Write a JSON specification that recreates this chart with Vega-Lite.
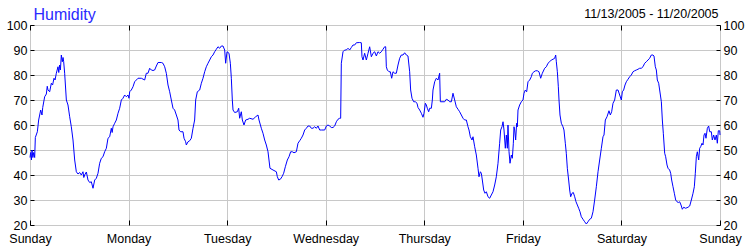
{
  "$schema": "https://vega.github.io/schema/vega-lite/v6.json",
  "width": 690,
  "height": 200,
  "autosize": {"type": "none"},
  "padding": {"left": 30, "top": 25, "right": 30, "bottom": 25},
  "background": "white",
  "config": {"view": {"stroke": "#000", "strokeWidth": 1}, "font": "Liberation Sans"},
  "data": {"values": [
    {"hour":0.0,"humidity":47},{"hour":0.16,"humidity":49},{"hour":0.35,"humidity":46},{"hour":0.49,"humidity":50},{"hour":0.7,"humidity":47},{"hour":0.9,"humidity":49},{"hour":1.14,"humidity":47},{"hour":1.3,"humidity":55},{"hour":1.79,"humidity":57.3},{"hour":2.11,"humidity":62},{"hour":2.6,"humidity":66},{"hour":2.92,"humidity":64},{"hour":3.1,"humidity":67},{"hour":3.57,"humidity":71.3},{"hour":3.98,"humidity":72.4},{"hour":4.2,"humidity":75.5},{"hour":4.38,"humidity":74},{"hour":4.79,"humidity":73.3},{"hour":5.19,"humidity":76.7},{"hour":5.5,"humidity":76},{"hour":5.84,"humidity":78.7},{"hour":6.1,"humidity":78},{"hour":6.41,"humidity":80.7},{"hour":6.82,"humidity":83.3},{"hour":7.0,"humidity":81},{"hour":7.22,"humidity":84},{"hour":7.4,"humidity":82},{"hour":7.63,"humidity":88},{"hour":7.87,"humidity":85.3},{"hour":8.05,"humidity":87},{"hour":8.2,"humidity":85.3},{"hour":8.44,"humidity":80.7},{"hour":8.85,"humidity":70},{"hour":9.25,"humidity":68},{"hour":9.66,"humidity":63.3},{"hour":10.06,"humidity":59.3},{"hour":10.47,"humidity":54},{"hour":10.88,"humidity":46},{"hour":11.28,"humidity":41.3},{"hour":11.69,"humidity":40.4},{"hour":12.09,"humidity":41},{"hour":12.5,"humidity":40},{"hour":12.9,"humidity":41.3},{"hour":13.1,"humidity":39},{"hour":13.31,"humidity":40},{"hour":13.72,"humidity":41.2},{"hour":14.12,"humidity":38},{"hour":14.53,"humidity":37},{"hour":14.93,"humidity":37.3},{"hour":15.34,"humidity":34.7},{"hour":15.75,"humidity":38},{"hour":16.15,"humidity":38.7},{"hour":16.56,"humidity":40.7},{"hour":16.96,"humidity":44.7},{"hour":17.37,"humidity":46.7},{"hour":17.77,"humidity":47.3},{"hour":18.18,"humidity":49.3},{"hour":18.59,"humidity":50.7},{"hour":18.99,"humidity":54.7},{"hour":19.4,"humidity":55.3},{"hour":19.8,"humidity":58.7},{"hour":20.0,"humidity":57},{"hour":20.21,"humidity":59.3},{"hour":20.62,"humidity":60.7},{"hour":21.02,"humidity":62},{"hour":21.43,"humidity":64.7},{"hour":21.83,"humidity":66.7},{"hour":22.24,"humidity":70},{"hour":22.64,"humidity":70.7},{"hour":23.05,"humidity":72},{"hour":23.45,"humidity":71.3},{"hour":23.86,"humidity":72},{"hour":24.1,"humidity":70.7},{"hour":24.27,"humidity":73.3},{"hour":24.67,"humidity":74},{"hour":25.08,"humidity":75.3},{"hour":25.48,"humidity":77.3},{"hour":26.3,"humidity":78.7},{"hour":27.11,"humidity":78.7},
    {"hour":27.92,"humidity":78},{"hour":28.32,"humidity":80.7},{"hour":28.73,"humidity":80.7},{"hour":29.14,"humidity":82.7},{"hour":29.54,"humidity":82},{"hour":29.95,"humidity":81.8},{"hour":30.35,"humidity":82},{"hour":30.76,"humidity":83.6},{"hour":31.17,"humidity":85},{"hour":31.98,"humidity":85},{"hour":32.38,"humidity":84.7},{"hour":32.79,"humidity":83.3},{"hour":33.19,"humidity":80.7},{"hour":33.6,"humidity":76},{"hour":34.01,"humidity":73.3},{"hour":34.41,"humidity":70},{"hour":34.82,"humidity":66.7},{"hour":35.22,"humidity":66},{"hour":35.63,"humidity":64},{"hour":36.03,"humidity":62},{"hour":36.28,"humidity":58},{"hour":36.68,"humidity":57.3},{"hour":37.25,"humidity":57.3},{"hour":37.5,"humidity":54.7},{"hour":37.9,"humidity":53.3},{"hour":38.06,"humidity":52},{"hour":38.47,"humidity":53.3},{"hour":38.88,"humidity":53.7},{"hour":39.28,"humidity":54.7},{"hour":39.69,"humidity":58.7},{"hour":40.09,"humidity":62},{"hour":40.34,"humidity":70},{"hour":40.74,"humidity":73.3},{"hour":41.31,"humidity":74},{"hour":41.72,"humidity":76.7},{"hour":42.12,"humidity":78.7},{"hour":42.53,"humidity":81.3},{"hour":42.93,"humidity":83.3},{"hour":43.34,"humidity":84.7},{"hour":43.75,"humidity":86},{"hour":44.15,"humidity":87.3},{"hour":44.56,"humidity":88},{"hour":44.96,"humidity":89.3},{"hour":45.37,"humidity":90.3},{"hour":45.77,"humidity":91.3},{"hour":46.18,"humidity":90.7},{"hour":46.59,"humidity":91.6},{"hour":46.99,"humidity":91.6},{"hour":47.4,"humidity":90},{"hour":47.64,"humidity":84.7},{"hour":47.97,"humidity":89.3},{"hour":48.45,"humidity":88.7},{"hour":48.78,"humidity":84.7},{"hour":49.02,"humidity":78.7},{"hour":49.26,"humidity":70},{"hour":49.43,"humidity":66},{"hour":49.83,"humidity":65},{"hour":50.48,"humidity":65.3},{"hour":50.81,"humidity":66.7},{"hour":51.05,"humidity":62.7},{"hour":51.45,"humidity":65.3},{"hour":51.7,"humidity":62},{"hour":52.1,"humidity":60},{"hour":52.51,"humidity":62},{"hour":53.08,"humidity":62.3},{"hour":53.48,"humidity":62.7},{"hour":54.3,"humidity":62.3},{"hour":54.95,"humidity":63.3},{"hour":55.51,"humidity":64},{"hour":55.76,"humidity":62},
    {"hour":56.32,"humidity":58.7},{"hour":56.73,"humidity":56.7},{"hour":57.14,"humidity":54},{"hour":57.54,"humidity":52},{"hour":57.95,"humidity":49.3},{"hour":58.19,"humidity":46},{"hour":58.43,"humidity":42.7},{"hour":59.17,"humidity":42},{"hour":59.98,"humidity":41.3},{"hour":60.22,"humidity":39.3},{"hour":60.55,"humidity":38},{"hour":60.95,"humidity":38.3},{"hour":61.36,"humidity":39.3},{"hour":61.76,"humidity":40.7},{"hour":62.17,"humidity":43.3},{"hour":62.65,"humidity":46},{"hour":63.06,"humidity":47.3},{"hour":63.47,"humidity":49.3},{"hour":63.87,"humidity":49.3},{"hour":64.28,"humidity":48.9},{"hour":64.85,"humidity":49.3},{"hour":65.25,"humidity":52.7},{"hour":65.66,"humidity":53.7},{"hour":66.06,"humidity":54.7},{"hour":66.47,"humidity":56},{"hour":66.88,"humidity":58},{"hour":67.28,"humidity":58.7},{"hour":67.69,"humidity":59.6},{"hour":68.09,"humidity":59.6},{"hour":68.5,"humidity":58.7},{"hour":68.9,"humidity":58.7},{"hour":69.31,"humidity":59.3},{"hour":69.72,"humidity":58.7},{"hour":70.12,"humidity":59.6},{"hour":70.53,"humidity":58},{"hour":70.93,"humidity":58},{"hour":71.75,"humidity":58},{"hour":72.15,"humidity":59.6},{"hour":72.56,"humidity":60},{"hour":72.96,"humidity":59.6},{"hour":73.37,"humidity":59},{"hour":73.77,"humidity":59},{"hour":74.18,"humidity":59.6},{"hour":74.59,"humidity":61.3},{"hour":74.99,"humidity":62.3},{"hour":75.4,"humidity":62.7},{"hour":75.64,"humidity":62.7},{"hour":75.8,"humidity":84.7},{"hour":76.21,"humidity":89.3},{"hour":76.62,"humidity":90},{"hour":77.02,"humidity":90},{"hour":77.43,"humidity":90.7},{"hour":77.83,"humidity":90},{"hour":78.24,"humidity":91},{"hour":78.64,"humidity":92},{"hour":79.05,"humidity":92},{"hour":79.46,"humidity":92.9},{"hour":80.27,"humidity":93},{"hour":80.67,"humidity":92.9},{"hour":80.83,"humidity":87.3},{"hour":81.08,"humidity":86},{"hour":81.48,"humidity":88.7},{"hour":81.89,"humidity":86},{"hour":82.3,"humidity":88.7},{"hour":82.7,"humidity":91.3},{"hour":83.11,"humidity":87.3},{"hour":83.51,"humidity":88.7},{"hour":83.92,"humidity":89.3},
    {"hour":84.33,"humidity":87.6},{"hour":84.73,"humidity":89.3},{"hour":85.14,"humidity":88.7},{"hour":85.54,"humidity":89.3},{"hour":85.95,"humidity":90.3},{"hour":86.35,"humidity":91.3},{"hour":86.6,"humidity":91.3},{"hour":86.76,"humidity":83.3},{"hour":87.0,"humidity":82},{"hour":87.41,"humidity":81.3},{"hour":87.73,"humidity":81.3},{"hour":88.06,"humidity":78.7},{"hour":88.38,"humidity":81.3},{"hour":88.79,"humidity":80.7},{"hour":89.19,"humidity":80.7},{"hour":89.6,"humidity":84},{"hour":90.01,"humidity":86.7},{"hour":90.41,"humidity":88},{"hour":90.82,"humidity":88},{"hour":91.22,"humidity":88.9},{"hour":91.63,"humidity":88},{"hour":92.03,"humidity":87.6},{"hour":92.44,"humidity":81.3},{"hour":92.68,"humidity":74},{"hour":93.01,"humidity":70.7},{"hour":93.42,"humidity":69.3},{"hour":93.82,"humidity":69.3},{"hour":94.23,"humidity":68.7},{"hour":94.47,"humidity":67},{"hour":94.88,"humidity":66},{"hour":95.28,"humidity":64.7},{"hour":95.69,"humidity":63.1},{"hour":95.93,"humidity":64.7},{"hour":96.26,"humidity":68.7},{"hour":96.5,"humidity":68},{"hour":96.74,"humidity":66.7},{"hour":97.07,"humidity":65.3},{"hour":97.31,"humidity":66.7},{"hour":97.72,"humidity":66.7},{"hour":97.96,"humidity":70},{"hour":98.12,"humidity":74},{"hour":98.53,"humidity":77.3},{"hour":98.93,"humidity":78.7},{"hour":99.34,"humidity":78},{"hour":99.74,"humidity":80.7},{"hour":99.91,"humidity":69.3},{"hour":100.56,"humidity":69.3},{"hour":100.96,"humidity":69.3},{"hour":101.37,"humidity":70.3},{"hour":101.77,"humidity":70},{"hour":102.18,"humidity":69.3},{"hour":102.59,"humidity":69.3},{"hour":102.99,"humidity":72.7},{"hour":103.4,"humidity":70},{"hour":103.8,"humidity":67.3},{"hour":104.21,"humidity":66.3},{"hour":104.61,"humidity":65.3},{"hour":105.02,"humidity":64},{"hour":105.43,"humidity":62.7},{"hour":105.83,"humidity":62},{"hour":106.24,"humidity":62},{"hour":106.64,"humidity":59.3},{"hour":106.89,"humidity":58},{"hour":107.21,"humidity":55.3},{"hour":107.62,"humidity":54},{"hour":107.86,"humidity":55.3},{"hour":108.27,"humidity":51.3},{"hour":108.67,"humidity":48},{"hour":109.08,"humidity":42.7},{"hour":109.32,"humidity":39.3},{"hour":109.65,"humidity":41.3},{"hour":109.89,"humidity":40.7},{"hour":110.13,"humidity":38},{"hour":110.46,"humidity":34},{"hour":110.78,"humidity":32.7},{"hour":111.11,"humidity":33.3},{"hour":111.51,"humidity":31.3},
    {"hour":111.92,"humidity":30.7},{"hour":112.32,"humidity":32},{"hour":112.73,"humidity":33.3},{"hour":113.14,"humidity":36},{"hour":113.54,"humidity":39.3},{"hour":113.95,"humidity":44.7},{"hour":114.35,"humidity":52.7},{"hour":114.6,"humidity":58},{"hour":114.92,"humidity":59.3},{"hour":115.17,"humidity":61.3},{"hour":115.41,"humidity":58},{"hour":115.73,"humidity":50.7},{"hour":115.98,"humidity":56},{"hour":116.22,"humidity":50.7},{"hour":116.38,"humidity":60},{"hour":116.63,"humidity":49.3},{"hour":116.87,"humidity":44.7},{"hour":117.19,"humidity":48},{"hour":117.44,"humidity":46.7},{"hour":117.68,"humidity":52.7},{"hour":117.84,"humidity":59.3},{"hour":118.01,"humidity":58},{"hour":118.25,"humidity":54},{"hour":118.49,"humidity":60.7},{"hour":118.65,"humidity":59.3},{"hour":118.82,"humidity":66},{"hour":119.22,"humidity":68},{"hour":119.63,"humidity":69.3},{"hour":120.03,"humidity":70},{"hour":120.28,"humidity":72.7},{"hour":120.6,"humidity":74},{"hour":120.93,"humidity":73.3},{"hour":121.25,"humidity":77.3},{"hour":121.66,"humidity":78},{"hour":122.06,"humidity":79.3},{"hour":122.31,"humidity":80.7},{"hour":122.71,"humidity":81.3},{"hour":123.12,"humidity":81.7},{"hour":123.53,"humidity":81.7},{"hour":123.93,"humidity":81.3},{"hour":124.34,"humidity":78.7},{"hour":124.74,"humidity":80.7},{"hour":125.31,"humidity":82.7},{"hour":125.72,"humidity":83.3},{"hour":126.12,"humidity":84.7},{"hour":126.53,"humidity":85.3},{"hour":126.93,"humidity":86},{"hour":127.34,"humidity":86.3},{"hour":127.75,"humidity":86.7},{"hour":127.99,"humidity":88},{"hour":128.15,"humidity":85.3},{"hour":128.4,"humidity":81.3},{"hour":128.64,"humidity":75.3},{"hour":128.8,"humidity":70},{"hour":129.04,"humidity":64},{"hour":129.37,"humidity":60.7},{"hour":129.77,"humidity":59.3},{"hour":130.01,"humidity":58},{"hour":130.34,"humidity":52.7},{"hour":130.58,"humidity":48.7},{"hour":130.83,"humidity":42.7},{"hour":131.15,"humidity":38},{"hour":131.4,"humidity":34},{"hour":131.64,"humidity":31.3},{"hour":131.97,"humidity":32.7},{"hour":132.29,"humidity":33},{"hour":132.62,"humidity":31.3},{"hour":132.94,"humidity":29.3},{"hour":133.27,"humidity":28},{"hour":133.59,"humidity":26.7},{"hour":133.91,"humidity":25.3},{"hour":134.24,"humidity":23.3},{"hour":134.64,"humidity":22.3},{"hour":135.05,"humidity":21.3},{"hour":135.46,"humidity":20.4},{"hour":135.86,"humidity":21.3},{"hour":136.27,"humidity":22.3},{"hour":136.67,"humidity":22.7},{"hour":137.08,"humidity":25.3},{"hour":137.48,"humidity":30},{"hour":137.89,"humidity":35.3},{"hour":138.3,"humidity":41.3},{"hour":138.7,"humidity":46},{"hour":139.11,"humidity":50.7},{"hour":139.51,"humidity":55.3},
    {"hour":139.76,"humidity":56},{"hour":140.08,"humidity":62},{"hour":140.49,"humidity":63.3},{"hour":140.97,"humidity":65.7},{"hour":141.3,"humidity":64},{"hour":141.62,"humidity":65.3},{"hour":141.95,"humidity":68.7},{"hour":142.35,"humidity":70},{"hour":142.76,"humidity":74},{"hour":143.17,"humidity":74},{"hour":143.57,"humidity":72},{"hour":143.98,"humidity":70},{"hour":144.22,"humidity":73.3},{"hour":144.54,"humidity":74},{"hour":144.87,"humidity":76},{"hour":145.19,"humidity":77.3},{"hour":145.6,"humidity":78.3},{"hour":146.01,"humidity":79.3},{"hour":146.41,"humidity":80},{"hour":146.82,"humidity":81.3},{"hour":147.22,"humidity":81.7},{"hour":147.63,"humidity":82},{"hour":148.03,"humidity":82.3},{"hour":148.44,"humidity":82.7},{"hour":148.84,"humidity":82.7},{"hour":149.25,"humidity":83.3},{"hour":149.66,"humidity":84.7},{"hour":150.06,"humidity":85.3},{"hour":150.47,"humidity":86},{"hour":150.87,"humidity":86.7},{"hour":151.28,"humidity":88},{"hour":151.68,"humidity":88},{"hour":151.93,"humidity":87.6},{"hour":152.25,"humidity":83.3},{"hour":152.5,"humidity":82},{"hour":152.74,"humidity":78},{"hour":153.07,"humidity":76.7},{"hour":153.31,"humidity":74},{"hour":153.72,"humidity":69.3},{"hour":153.96,"humidity":62},{"hour":154.2,"humidity":56.7},{"hour":154.53,"humidity":48.7},{"hour":154.77,"humidity":47.3},{"hour":155.1,"humidity":44},{"hour":155.34,"humidity":42.7},{"hour":155.74,"humidity":42},{"hour":155.99,"humidity":40.7},{"hour":156.23,"humidity":38},{"hour":156.56,"humidity":35.3},{"hour":156.88,"humidity":32.7},{"hour":157.21,"humidity":30},{"hour":157.53,"humidity":29.3},{"hour":157.86,"humidity":29},{"hour":158.18,"humidity":29.3},{"hour":158.51,"humidity":28},{"hour":158.83,"humidity":26.3},{"hour":159.16,"humidity":27.1},{"hour":159.64,"humidity":26.7},{"hour":160.21,"humidity":27.1},{"hour":160.62,"humidity":27.6},{"hour":161.02,"humidity":30},{"hour":161.43,"humidity":32.7},{"hour":161.75,"humidity":35.3},{"hour":161.99,"humidity":40.7},{"hour":162.24,"humidity":47.3},{"hour":162.48,"humidity":49.3},{"hour":162.81,"humidity":46},{"hour":163.05,"humidity":50.7},{"hour":163.29,"humidity":51.3},{"hour":163.62,"humidity":52.7},{"hour":163.86,"humidity":52},{"hour":164.11,"humidity":56},{"hour":164.35,"humidity":56.7},{"hour":164.59,"humidity":54.7},{"hour":164.92,"humidity":58.7},{"hour":165.24,"humidity":59.6},{"hour":165.49,"humidity":57.3},{"hour":165.89,"humidity":57.3},{"hour":166.13,"humidity":54},{"hour":166.46,"humidity":56},{"hour":166.78,"humidity":54},{"hour":167.11,"humidity":56},{"hour":167.35,"humidity":52.7},{"hour":167.59,"humidity":57.7},{"hour":167.92,"humidity":57.7},{"hour":168.0,"humidity":56}
  ]},
  "layer": [
    {
      "mark": {"type": "line", "color": "#0000ff", "strokeWidth": 1},
      "encoding": {
        "x": {
          "field": "hour", "type": "quantitative",
          "scale": {"domain": [0, 168], "nice": false, "zero": false},
          "axis": {
            "orient": "bottom", "values": [0, 24, 48, 72, 96, 120, 144, 168],
            "labelExpr": "['Sunday','Monday','Tuesday','Wednesday','Thursday','Friday','Saturday','Sunday'][round(datum.value/24)]",
            "title": null, "grid": true, "gridColor": "#c8c8c8", "domain": false,
            "tickSize": -5, "tickColor": "#000", "labelPadding": 12, "labelFontSize": 12.5,
            "labelColor": "#000", "labelFlush": false, "labelOverlap": false, "labelFont": "Liberation Sans"
          }
        },
        "y": {
          "field": "humidity", "type": "quantitative",
          "scale": {"domain": [20, 100], "nice": false, "zero": false},
          "axis": {
            "orient": "left", "values": [20, 30, 40, 50, 60, 70, 80, 90, 100],
            "title": "Humidity", "titleAngle": 0, "titleX": 3, "titleY": -6, "titleAlign": "left",
            "titleBaseline": "alphabetic", "titleColor": "#2a2aff", "titleFontSize": 16,
            "titleFontWeight": "normal", "titleFont": "Liberation Sans",
            "grid": true, "gridColor": "#c8c8c8", "domain": false,
            "tickSize": -4, "tickColor": "#000", "labelPadding": 7, "labelFontSize": 12.5,
            "labelColor": "#000", "labelFlush": false, "labelOverlap": false, "labelFont": "Liberation Sans"
          }
        }
      }
    },
    {
      "mark": {"type": "line", "strokeOpacity": 0},
      "encoding": {
        "x": {
          "field": "hour", "type": "quantitative",
          "axis": {
            "orient": "top", "values": [0, 24, 48, 72, 96, 120, 144, 168], "labels": false,
            "grid": false, "domain": false, "tickSize": -5, "tickColor": "#000",
            "title": "11/13/2005 - 11/20/2005", "titleX": 688, "titleY": -8, "titleAlign": "right",
            "titleBaseline": "alphabetic", "titleAngle": 0, "titleFontSize": 12.5,
            "titleFontWeight": "normal", "titleColor": "#000", "titleFont": "Liberation Sans"
          }
        },
        "y": {
          "field": "humidity", "type": "quantitative",
          "axis": {
            "orient": "right", "values": [20, 30, 40, 50, 60, 70, 80, 90, 100], "title": null,
            "grid": false, "domain": false, "tickSize": -4, "tickColor": "#000",
            "labelPadding": 7, "labelFontSize": 12.5, "labelColor": "#000",
            "labelFlush": false, "labelOverlap": false, "labelFont": "Liberation Sans"
          }
        }
      }
    }
  ],
  "resolve": {"axis": {"x": "independent", "y": "independent"}}
}
